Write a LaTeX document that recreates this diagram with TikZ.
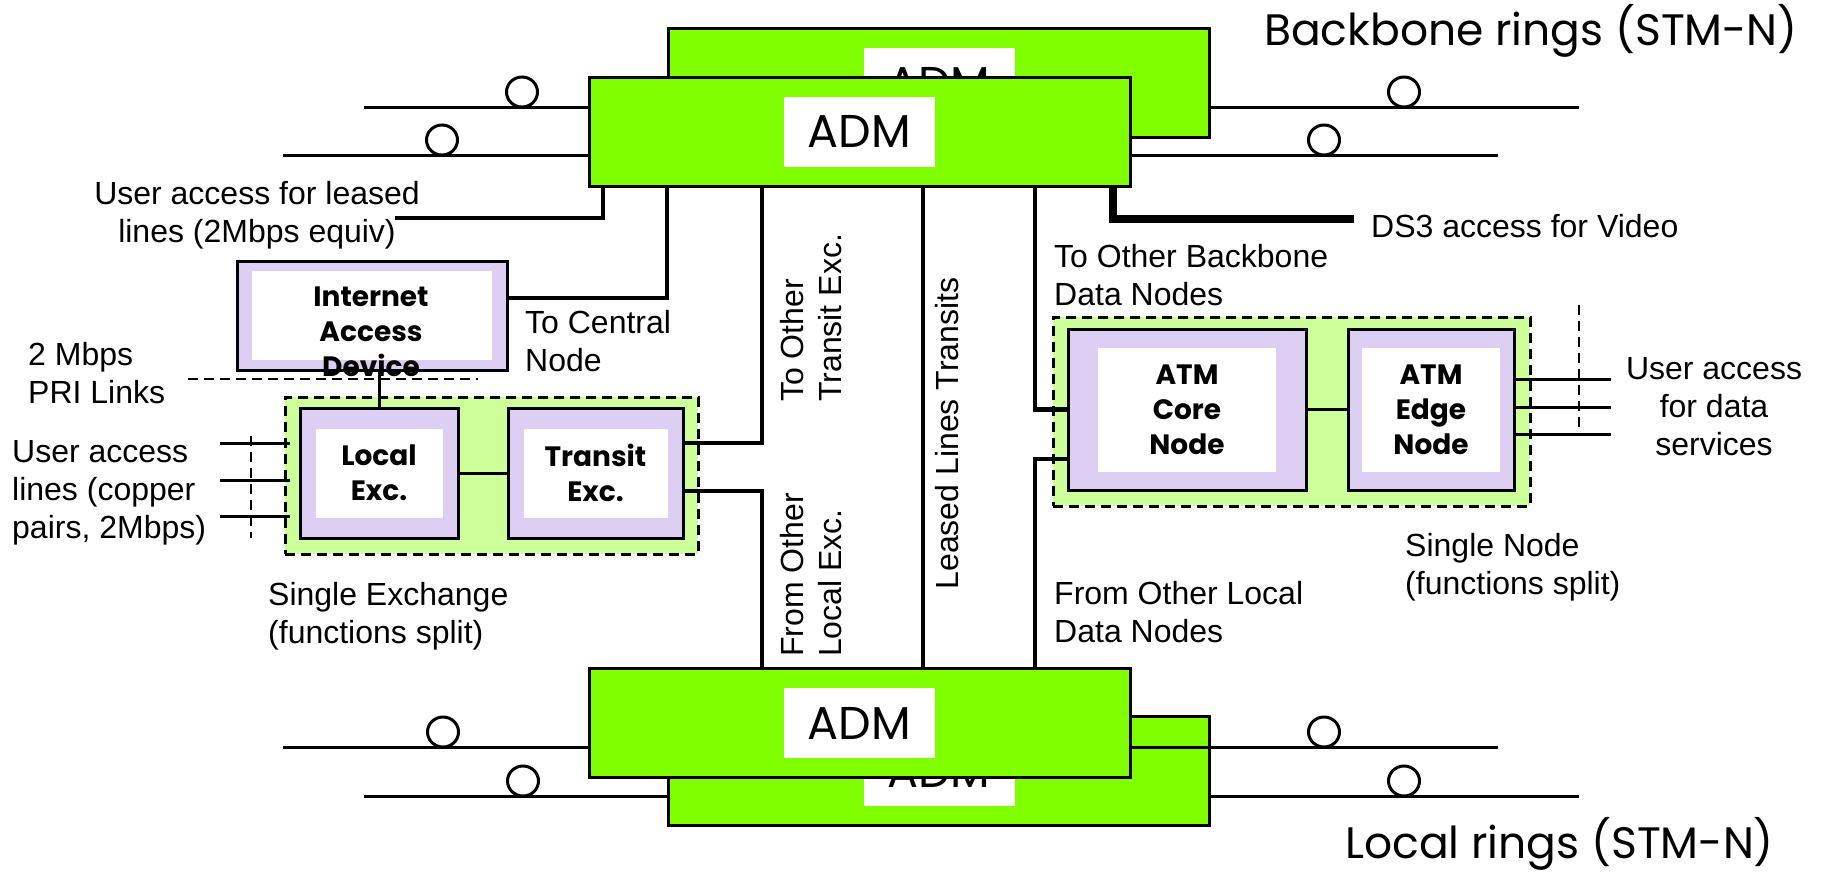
\documentclass[tikz,border=0pt]{standalone}
\usepackage{fontspec}
\setmainfont{Liberation Sans}
\newfontfamily\gothic{Poppins}
\definecolor{admgreen}{RGB}{128,255,0}
\definecolor{grpgreen}{RGB}{204,255,153}
\definecolor{lavender}{RGB}{221,207,243}
\tikzset{
  adm/.style={draw=black, line width=3pt, fill=admgreen, minimum width=541pt,
              minimum height=109pt, inner sep=0pt, outer sep=0pt},
  admlabel/.style={fill=white, minimum width=151pt, minimum height=70pt,
              inner sep=0pt, font=\gothic\fontsize{46}{50}\selectfont},
  grp/.style={draw=black, line width=3pt, dash pattern=on 10pt off 6pt,
              fill=grpgreen, inner sep=0pt, outer sep=0pt},
  unit/.style={draw=black, line width=3pt, fill=lavender, inner sep=0pt, outer sep=0pt},
  unitin/.style={fill=white, inner sep=0pt, align=center,
              font=\gothic\bfseries\fontsize{28}{35}\selectfont},
  link/.style={line width=4.5pt},
  ring/.style={line width=3pt},
  cut/.style={line width=2.5pt, dash pattern=on 10pt off 6pt},
  txt/.style={inner sep=0pt, font=\fontsize{32}{38}\selectfont},
  ringtxt/.style={inner sep=0pt, font=\gothic\fontsize{44}{50}\selectfont}
}

\begin{document}
\begin{tikzpicture}[x=1pt,y=-1pt]
\useasboundingbox (0,0) rectangle (1822,873);

% Second ADMs (behind)
\node[adm] (admtopb) at (939,83) {};
\node[admlabel] (admtopblbl) at (admtopb) {ADM};
\node[adm] (admbotb) at (939,771) {};
\node[admlabel] (admbotblbl) at (admbotb) {ADM};

% Ring fibres, top
\coordinate (rtl1) at (364,107);
\coordinate (rtl2) at (283,155);
\coordinate (rtr1) at (1579,107);
\coordinate (rtr2) at (1498,155);
\draw[ring] (rtl1) -- (rtl1 -| admtopb.west);
\draw[ring] (rtl2) -- (rtl2 -| admtopb.west);
\draw[ring] (rtr1) -- (rtr1 -| admtopb.east);
\draw[ring] (rtr2) -- (rtr2 -| admtopb.west);

% Ring fibres, bottom
\coordinate (rbl1) at (283,747);
\coordinate (rbl2) at (364,796);
\coordinate (rbr1) at (1498,747);
\coordinate (rbr2) at (1579,796);
\draw[ring] (rbl1) -- (rbl1 -| admbotb.west);
\draw[ring] (rbl2) -- (rbl2 -| admbotb.west);
\draw[ring] (rbr1) -- (rbr1 -| admbotb.west);
\draw[ring] (rbr2) -- (rbr2 -| admbotb.east);

% Front ADMs
\node[adm] (admtop) at (859.5,131.5) {};
\node[admlabel] (admtoplbl) at (admtop) {ADM};
\node[adm] (admbot) at (859.5,723) {};
\node[admlabel] (admbotlbl) at (admbot) {ADM};

% Marks on the rings
\foreach \x/\y in {522/92, 442/140, 1404/92, 1324/140,
                   443/732, 523/781, 1324/732, 1404/781}
  \draw[ring, fill=white] (\x,\y) ellipse (15.5 and 15);

% Ring names
\node[ringtxt, anchor=base west] (bbtxt) at (1264,45) {Backbone rings (STM-N)};
\node[ringtxt, anchor=base west] (lrtxt) at (1345,858) {Local rings (STM-N)};

% Exchange and data node groups
\node[grp, minimum width=413pt, minimum height=157pt] (exch) at (491.5,475.5) {};
\node[grp, minimum width=477pt, minimum height=189pt] (atmgrp) at (1291.5,411.5) {};

% Boxes
\node[unit, minimum width=270pt, minimum height=109pt] (iad) at (372,315.5) {};
\node[unitin, minimum width=240pt, minimum height=89pt] (iadin) at (iad) {};
\node[unit, minimum width=158pt, minimum height=130pt] (local) at (379,473) {};
\node[unitin, minimum width=127pt, minimum height=89pt] (localin) at (local) {Local\\Exc.};
\node[unit, minimum width=175pt, minimum height=130pt] (transit) at (595.5,473) {};
\node[unitin, minimum width=144pt, minimum height=89pt] (transitin) at (transit) {Transit\\Exc.};
\node[unit, minimum width=238pt, minimum height=161pt] (core) at (1187,409.5) {};
\node[unitin, minimum width=178pt, minimum height=124pt] (corein) at (core) {ATM\\Core\\Node};
\node[unit, minimum width=166pt, minimum height=161pt] (edge) at (1431,409.5) {};
\node[unitin, minimum width=138pt, minimum height=124pt] (edgein) at (edge) {ATM\\Edge\\Node};

% Links between boxes
\draw[ring] (local.east) -- (transit.west);
\draw[ring] (core.east) -- (edge.west);
\draw[ring] (local.north) -- (local.north |- iad.south);

% Links to the ADMs
\coordinate (leasedend) at (395,218);
\coordinate (ds3end) at (1354,219);
\draw[link] ([xshift=14pt]admtop.south west) |- (leasedend);
\draw[link] ([xshift=78pt]admtop.south west) |- ([yshift=-37pt]iad.north east);
\draw[link] ([xshift=173pt]admtop.south west) |- ([yshift=-35pt]transit.north east);
\draw[link] ([yshift=47pt]transit.south east) -| ([xshift=173pt]admbot.north west);
\draw[link] ([xshift=334pt]admtop.south west) -- ([xshift=334pt]admbot.north west);
\draw[link] ([xshift=446pt]admtop.south west) |- (core.west);
\draw[link] ([xshift=446pt]admbot.north west) |- ([yshift=31pt]core.south west);
\draw[line width=8pt] ([xshift=524pt]admtop.south west) |- (ds3end);

% User access lines
\foreach \y [count=\i] in {443,480,516} {
  \coordinate (ua\i) at (220,\y);
  \draw[ring] (ua\i) -- (ua\i -| exch.west) -- ++(5,0);
}
\foreach \y [count=\i] in {379,407,434} {
  \coordinate (ud\i) at (1611,\y);
  \draw[ring] (ud\i) -- (ud\i -| edge.east);
}

% Demarcation (dashed)
\coordinate (prileft) at (188,379);
\coordinate (priright) at (478,379);
\coordinate (uatop) at (251,436);
\coordinate (uabot) at (251,538);
\coordinate (udtop) at (1579,305);
\coordinate (udbot) at (1579,427);
\draw[cut] (prileft) -- (priright);
\draw[cut] (uatop) -- (uabot);
\draw[cut] (udtop) -- (udbot);

% Labels
\node[unitin, fill=none] (iadtxt) at (371,332) {Internet\\Access\\Device};
\node[txt, align=center] (leasedtxt) at (257,215) {User access for leased\\lines (2Mbps equiv)};
\node[txt, align=left, anchor=west] (centraltxt) at (525,341.5) {To Central\\Node};
\node[txt, align=left, anchor=west] (pritxt) at (28,373.5) {2 Mbps\\PRI Links};
\node[txt, align=left, anchor=west] (uatxt) at (12,493) {User access\\lines (copper\\pairs, 2Mbps)};
\node[txt, align=left, anchor=west] (exchtxt) at (268,616.5) {Single Exchange\\(functions split)};
\node[txt, align=left, anchor=west] (bbdatatxt) at (1054,275.5) {To Other Backbone\\Data Nodes};
\node[txt, anchor=base west] (ds3txt) at (1371,237) {DS3 access for Video};
\node[txt, align=left, anchor=west] (lcdatatxt) at (1054,612.5) {From Other Local\\Data Nodes};
\node[txt, align=left, anchor=west] (nodetxt) at (1405,567.5) {Single Node\\(functions split)};
\node[txt, align=center] (udtxt) at (1714,407) {User access\\for data\\services};
\node[txt, align=left, rotate=90, anchor=west] (trtxt) at (811.5,402) {To Other\\Transit Exc.};
\node[txt, align=left, rotate=90, anchor=west] (lctxt) at (811.5,657) {From Other\\Local Exc.};
\node[txt, rotate=90, anchor=base] (lltxt) at (958,433.5) {Leased Lines Transits};

\end{tikzpicture}
\end{document}
